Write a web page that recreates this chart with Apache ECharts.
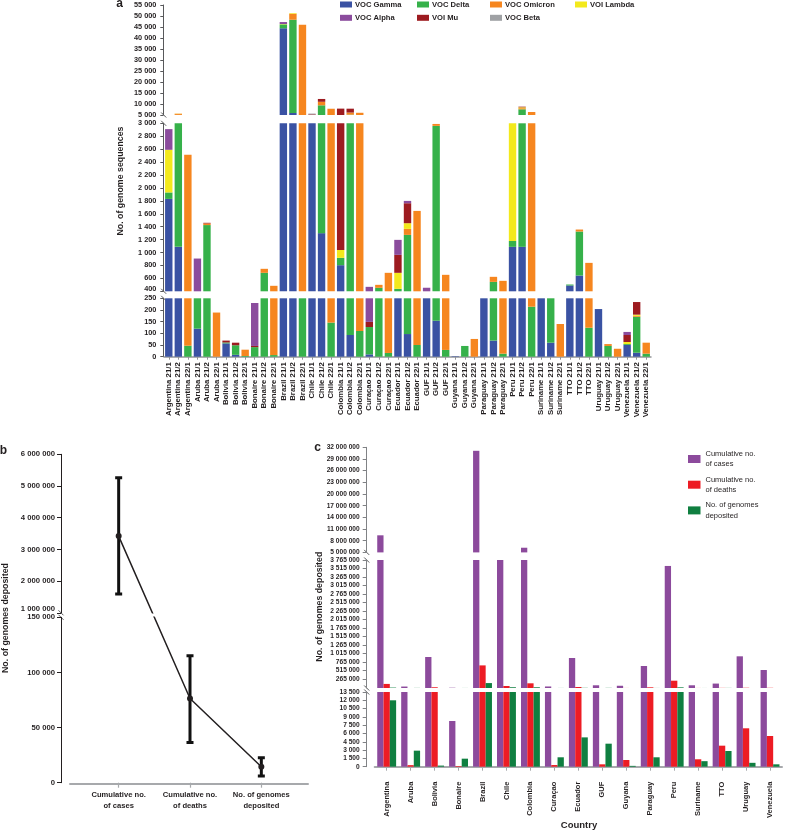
<!DOCTYPE html>
<html><head><meta charset="utf-8">
<script src="https://cdn.jsdelivr.net/npm/echarts@6/dist/echarts.min.js"></script>
<style>html,body{margin:0;padding:0;background:#fff}#c{width:785px;height:831px}</style>
</head><body><div id="c"></div>
<script>
// ---------------- DATA ----------------
const countries = ['Argentina','Aruba','Bolivia','Bonaire','Brazil','Chile','Colombia','Curaçao','Ecuador','GUF','Guyana','Paraguay','Peru','Suriname','TTO','Uruguay','Venezuela'];
const periods = ['21/1','21/2','22/1'];
const aCategories = countries.flatMap(c => periods.map(p => c + ' ' + p));

// panel a: genome sequences per variant (3 periods per country)
const vocGamma   = [1830,1088,0, 120,0,0, 57,8,0, 0,0,0, 44400,5900,0, 5050,1300,0, 804,93,0, 10,0,0, 380,97,0, 380,154,0, 2,0,0, 300,69,0, 1088,1088,0, 300,60,0, 490,644,0, 204,0,0, 50,17,0];
const vocDelta   = [100,3950,47, 260,1425,0, 4,41,3, 41,686,7, 1800,42400,300, 0,8100,146, 114,5060,110, 117,454,16, 58,1176,50, 0,2806,29, 0,46,0, 0,477,13, 92,6500,214, 0,280,0, 15,681,124, 0,46,0, 4,154,13];
const vocOmicron = [0,550,2468, 0,25,189, 0,0,27, 0,62,478, 0,2700,45700, 0,1500,7700, 0,900,5900, 0,46,670, 0,93,1594, 0,30,626, 0,0,76, 0,78,549, 0,500,6150, 0,0,140, 0,31,716, 0,8,34, 0,4,47];
const voiLambda  = [660,60,0, 0,0,0, 0,0,0, 0,0,0, 150,300,0, 0,100,0, 123,50,0, 0,0,0, 248,88,0, 0,0,0, 0,0,0, 0,0,0, 2000,400,0, 0,0,0, 0,0,0, 0,0,0, 9,5,0];
const voiMu      = [0,0,0, 0,10,0, 8,11,0, 5,0,0, 0,0,0, 250,1290,0, 6860,1770,0, 22,0,0, 278,309,0, 0,0,0, 0,0,0, 0,0,0, 0,300,0, 0,0,0, 0,0,0, 0,0,0, 30,54,0];
const vocAlpha   = [320,0,0, 527,0,0, 0,0,0, 184,0,0, 900,0,0, 0,0,0, 0,0,0, 320,0,0, 232,36,0, 75,0,0, 0,0,0, 0,0,0, 0,0,0, 0,0,0, 0,0,0, 0,0,0, 13,0,0];
const vocBeta    = [0,0,0, 0,0,0, 0,0,0, 0,0,0, 0,0,0, 350,0,0, 0,0,0, 0,0,0, 0,0,0, 0,0,0, 0,0,0, 0,0,0, 0,0,0, 0,0,0, 0,0,0, 0,0,0, 0,0,0];

// panel b
const bCategories = ['Cumulative no.\nof cases', 'Cumulative no.\nof deaths', 'No. of genomes\ndeposited'];
const bMean = [3420000, 76400, 14500];
const bLow  = [1590000, 36400, 6100];
const bHigh = [5260000, 115200, 22700];

// panel c
const cCases   = [9390000, 43000, 912000, 8260, 31100000, 4500000, 6200000, 45000, 882000, 80000, 66000, 647000, 3590000, 80000, 130000, 932000, 529000];
const cDeaths  = [120000, 280, 21500, 120, 665000, 59000, 138000, 300, 29000, 430, 1210, 19500, 215000, 1340, 3800, 6940, 5550];
const cGenomes = [12000, 2900, 200, 1450, 145000, 22000, 21000, 1700, 5300, 4160, 150, 1700, 19000, 1000, 2840, 700, 430];
const cMidTicks = [15000,265000,515000,765000,1015000,1265000,1515000,1765000,2015000,2265000,2515000,2765000,3015000,3265000,3515000,3765000];

// ---------------- STYLE ----------------
const FONT = '"Liberation Sans",Arial,Helvetica,sans-serif';
const INK = '#231f20';
const fmt = v => String(Math.round(v)).replace(/\B(?=(\d{3})+(?!\d))/g, ' ');

const aVariants = [
  {name:'VOC Gamma', data:vocGamma, color:'#3a52a3'},
  {name:'VOC Delta', data:vocDelta, color:'#36b14a'},
  {name:'VOC Omicron', data:vocOmicron, color:'#f6861f'},
  {name:'VOI Lambda', data:voiLambda, color:'#f3e91c'},
  {name:'VOI Mu', data:voiMu, color:'#9d1b20'},
  {name:'VOC Alpha', data:vocAlpha, color:'#8b4c9d'},
  {name:'VOC Beta', data:vocBeta, color:'#9fa1a4'}
];
const cSeriesDefs = [
  {name:'Cumulative no. of cases', data:cCases, color:'#8c4a9c'},
  {name:'Cumulative no. of deaths', data:cDeaths, color:'#ed1c24'},
  {name:'No. of genomes deposited', data:cGenomes, color:'#0f7f40'}
];
const cLegendText = {'Cumulative no. of cases':'Cumulative no.\nof cases','Cumulative no. of deaths':'Cumulative no.\nof deaths','No. of genomes deposited':'No. of genomes\ndeposited'};

// layout
const A = {left:164, width:487, segs:[{top:5,height:110,min:5000,max:55000,interval:5000},{top:123.3,height:168,min:400,max:3000,interval:200},{top:298.3,height:58.4,min:0,max:250,interval:50}]};
const B = {left:83, width:214, segs:[{top:454.3,height:158.5,min:1000000,max:6000000,interval:1000000},{top:617.3,height:165.4,min:0,max:150000,interval:50000}]};
const C = {left:374.7, width:407.3, segs:[{top:447.3,height:105.1,min:5000000,max:32000000,interval:3000000},{top:560,height:128,min:0,max:3765000},{top:692,height:74.7,min:0,max:13500,interval:1500}]};

const grids = [], xAxes = [], yAxes = [], series = [];
const lblBase = {fontFamily:FONT, fontWeight:'bold', color:INK};

// ---- panel a
A.segs.forEach((s, i) => {
  const gi = grids.length;
  grids.push({left:A.left, top:s.top, width:A.width, height:s.height, outerBoundsMode:'none'});
  const isBottom = i === 2;
  xAxes.push(isBottom ? {
    gridIndex:gi, type:'category', data:aCategories, offset:1.5,
    axisLine:{show:true, lineStyle:{color:'#939598', width:1.5}},
    axisTick:{show:true, alignWithLabel:true, length:3, lineStyle:{color:'#939598'}},
    axisLabel:{...lblBase, fontSize:7.8, rotate:90, interval:0, margin:4}
  } : {gridIndex:gi, type:'category', data:aCategories, show:false});
  yAxes.push({
    gridIndex:gi, type:'value', min:s.min, max:s.max, interval:s.interval, offset:0.7,
    splitLine:{show:false},
    axisLine:{show:true, lineStyle:{color:'#58595b'}},
    axisTick:{show:true, length:3, lineStyle:{color:'#58595b'}},
    axisLabel:{...lblBase, fontSize:7.3, margin:7,
      formatter: v => (i === 1 && v === s.min) ? '{up|' + fmt(v) + '}' : fmt(v),
      rich:{up:{...lblBase, fontSize:7.3, padding:[0,0,4,0]}}}
  });
  aVariants.forEach(vr => series.push({
    type:'bar', name:vr.name, xAxisIndex:gi, yAxisIndex:gi, stack:'a' + i,
    data:vr.data, barWidth:7.4, itemStyle:{color:vr.color}, clip:true, silent:true
  }));
});

// ---- panel b
const bPx = (seg, v) => seg.top + (seg.max - v) / (seg.max - seg.min) * seg.height;
const bVal = (seg, px) => seg.max - (px - seg.top) / seg.height * (seg.max - seg.min);
const bSegOf = v => v >= B.segs[0].min ? 0 : 1;
const bVisual = bMean.map(v => bPx(B.segs[bSegOf(v)], v));
function errRender(params, api) {
  const x = api.value(0), lo = api.value(1), hi = api.value(2);
  const p1 = api.coord([x, lo]), p2 = api.coord([x, hi]);
  const w = 3.5, st = {stroke:'#111', lineWidth:3};
  return {type:'group', children:[
    {type:'line', shape:{x1:p1[0], y1:p1[1], x2:p2[0], y2:p2[1]}, style:st},
    {type:'line', shape:{x1:p1[0]-w, y1:p1[1], x2:p1[0]+w, y2:p1[1]}, style:st},
    {type:'line', shape:{x1:p2[0]-w, y1:p2[1], x2:p2[0]+w, y2:p2[1]}, style:st}
  ]};
}
B.segs.forEach((s, i) => {
  const gi = grids.length;
  grids.push({left:B.left, top:s.top, width:B.width, height:s.height, outerBoundsMode:'none'});
  xAxes.push(i === 1 ? {
    gridIndex:gi, type:'category', data:bCategories,
    axisLine:{show:false},
    axisTick:{show:true, alignWithLabel:true, length:5, lineStyle:{color:'#a7a9ac', width:1.2}},
    axisLabel:{...lblBase, fontSize:7.6, lineHeight:11, margin:7, interval:0}
  } : {gridIndex:gi, type:'category', data:bCategories, show:false});
  yAxes.push({
    gridIndex:gi, type:'value', min:s.min, max:s.max, interval:s.interval, offset:22,
    splitLine:{show:false},
    axisLine:{show:true, lineStyle:{color:INK}},
    axisTick:{show:true, length:4, lineStyle:{color:INK}},
    axisLabel:{...lblBase, fontSize:7.7, margin:6,
      formatter: v => (i === 0 && v === s.min) ? '{up|' + fmt(v) + '}' : fmt(v),
      rich:{up:{...lblBase, fontSize:7.7, padding:[0,0,8,0]}}}
  });
  series.push({
    type:'line', xAxisIndex:gi, yAxisIndex:gi, clip:true, silent:true,
    lineStyle:{color:INK, width:1.5}, itemStyle:{color:INK},
    data: bVisual.map((px, k) => ({value:[k, bVal(s, px)], symbol: bSegOf(bMean[k]) === i ? 'circle' : 'none', symbolSize:6}))
  });
  series.push({
    type:'custom', xAxisIndex:gi, yAxisIndex:gi, clip:true, silent:true, renderItem:errRender,
    encode:{x:0, y:[1,2]},
    data: bMean.map((m, k) => [k, bLow[k], bHigh[k]]).filter((d, k) => bSegOf(bMean[k]) === i)
  });
});
// b: axis baseline
{
  const gi = grids.length;
  grids.push({left:70, top:782.3, width:238, height:1, outerBoundsMode:'none'});
  xAxes.push({gridIndex:gi, type:'value', min:0, max:1, position:'bottom',
    axisLine:{show:true, lineStyle:{color:'#a7a9ac', width:2}}, axisTick:{show:false}, axisLabel:{show:false}, splitLine:{show:false}});
  yAxes.push({gridIndex:gi, type:'value', show:false});
}

// ---- panel c
C.segs.forEach((s, i) => {
  const gi = grids.length;
  grids.push({left:C.left, top:s.top, width:C.width, height:s.height, outerBoundsMode:'none'});
  xAxes.push(i === 2 ? {
    gridIndex:gi, type:'category', data:countries, offset:10,
    axisLine:{show:true, lineStyle:{color:'#a7a9ac', width:2}},
    axisTick:{show:true, alignWithLabel:true, length:4, lineStyle:{color:'#a7a9ac'}},
    axisLabel:{...lblBase, fontSize:7.5, rotate:90, interval:0, margin:5}
  } : {gridIndex:gi, type:'category', data:countries, show:false});
  const ya = {
    gridIndex:gi, type:'value', min:s.min, max:s.max, offset:8,
    splitLine:{show:false},
    axisLine:{show:true, lineStyle:{color:'#808285'}},
    axisTick:{show:true, length:4, lineStyle:{color:'#808285'}},
    axisLabel:{...lblBase, fontSize:6.6, margin:7,
      formatter: v => (i === 1 && v === cMidTicks[0]) ? '{up|' + fmt(v) + '}' : fmt(v),
      rich:{up:{...lblBase, fontSize:6.6, padding:[0,0,5,0]}}}
  };
  if (s.interval) ya.interval = s.interval;
  else { ya.axisLabel.customValues = cMidTicks; ya.axisTick.customValues = cMidTicks; }
  yAxes.push(ya);
  cSeriesDefs.forEach(sd => series.push({
    type:'bar', name:sd.name, xAxisIndex:gi, yAxisIndex:gi, data:sd.data,
    barWidth:6.3, barGap:'0%', itemStyle:{color:sd.color}, clip:true, silent:true
  }));
});

// ---------------- LEGENDS ----------------
const aLegendPos = {'VOC Gamma':[340,0.5],'VOC Delta':[417,0.5],'VOC Omicron':[490,0.5],'VOI Lambda':[575,0.5],'VOC Alpha':[340,13.8],'VOI Mu':[417,13.8],'VOC Beta':[490,13.8]};
const legends = Object.keys(aLegendPos).map(n => ({
  data:[n], left:aLegendPos[n][0], top:aLegendPos[n][1], padding:0, icon:'rect',
  itemWidth:12, itemHeight:6, selectedMode:false,
  textStyle:{fontFamily:FONT, fontWeight:'bold', fontSize:7.6, color:INK, padding:[0,0,0,-2]}
}));
legends.push({
  data:cSeriesDefs.map(s => s.name), orient:'vertical', left:688, top:448.5, padding:0, icon:'rect',
  itemWidth:12.5, itemHeight:8, itemGap:4.7, selectedMode:false,
  formatter: n => cLegendText[n],
  textStyle:{fontFamily:FONT, fontSize:7.5, lineHeight:10.5, color:INK}
});

// ---------------- GRAPHIC (titles, break marks) ----------------
const breakMarks = [[163.7,115],[163.7,123.3],[163.7,291.3],[163.7,298.3],[61,612.8],[61,617.3],[366.7,552.4],[366.7,560],[366.7,688],[366.7,692]];
const graphic = [
  {type:'text', x:119.5, y:3.5, style:{text:'a', font:'bold 12px ' + FONT, fill:INK, align:'center', verticalAlign:'middle'}},
  {type:'text', x:3.5, y:450.5, style:{text:'b', font:'bold 12px ' + FONT, fill:INK, align:'center', verticalAlign:'middle'}},
  {type:'text', x:317.5, y:447.5, style:{text:'c', font:'bold 12px ' + FONT, fill:INK, align:'center', verticalAlign:'middle'}},
  {type:'text', x:121, y:181, rotation:Math.PI/2, style:{text:'No. of genome sequences', font:'bold 8.8px ' + FONT, fill:INK, align:'center', verticalAlign:'middle'}},
  {type:'text', x:6, y:618, rotation:Math.PI/2, style:{text:'No. of genomes deposited', font:'bold 8.8px ' + FONT, fill:INK, align:'center', verticalAlign:'middle'}},
  {type:'text', x:320, y:606.7, rotation:Math.PI/2, style:{text:'No. of genomes deposited', font:'bold 8.8px ' + FONT, fill:INK, align:'center', verticalAlign:'middle'}},
  {type:'text', x:579, y:825.5, style:{text:'Country', font:'bold 9.5px ' + FONT, fill:INK, align:'center', verticalAlign:'middle'}}
].concat(breakMarks.map(([x, y]) => ({type:'line', shape:{x1:x-2.5, y1:y-2.5, x2:x+2.5, y2:y+2.5}, style:{stroke:'#58595b', lineWidth:1}})));

const chart = echarts.init(document.getElementById('c'), null, {renderer:'canvas'});
chart.setOption({
  animation:false,
  backgroundColor:'#ffffff',
  grid:grids, xAxis:xAxes, yAxis:yAxes, series:series,
  legend:legends, graphic:graphic, tooltip:{show:false}
});
</script></body></html>
